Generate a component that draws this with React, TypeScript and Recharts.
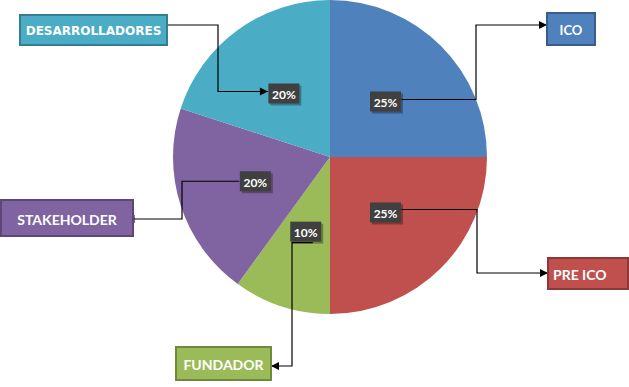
import React from "react";
import { PieChart, Pie, Cell } from "recharts";

// token allocation
const NAMES = ["ICO", "PRE ICO", "FUNDADOR", "STAKEHOLDER", "DESARROLLADORES"];
const VALUES = [25, 25, 10, 20, 20];
const COLORS = ["#4f81bd", "#c0504d", "#9bbb59", "#8064a2", "#4bacc6"];
const BORDERS = ["#385d8a", "#8c3836", "#71893f", "#5c4776", "#357d91"];

const data = NAMES.map((name, i) => ({ name, value: VALUES[i] }));

type Callout = {
  box: { x: number; y: number; w: number; h: number };
  elbowX: number;
  lineY: number;
  start: [number, number];
  arrow: "box" | "label" | "tick";
  font: string;
  size: number;
  tx?: number;
  anchor?: "start" | "middle";
};

// callout boxes placed around the pie, keyed by slice name
const CALLOUTS: Record<string, Callout> = {
  ICO: { box: { x: 547, y: 13, w: 48, h: 32 }, elbowX: 476, lineY: 25, start: [16, -2], arrow: "box", font: "Lato", size: 13 },
  "PRE ICO": { box: { x: 548, y: 258, w: 80, h: 31 }, elbowX: 477, lineY: 273, start: [16, -3], arrow: "box", font: "Lato", size: 14, tx: 553, anchor: "start" },
  FUNDADOR: { box: { x: 176, y: 347, w: 95, h: 33 }, elbowX: 292, lineY: 366, start: [7, 11], arrow: "box", font: "Lato", size: 14 },
  STAKEHOLDER: { box: { x: 1, y: 200, w: 132, h: 36 }, elbowX: 182, lineY: 219, start: [-16, 0], arrow: "tick", font: "Lato", size: 14 },
  DESARROLLADORES: { box: { x: 20, y: 15, w: 147, h: 30 }, elbowX: 218, lineY: 25, start: [-16, -2], arrow: "label", font: "DejaVu Sans", size: 12 },
};

const RADIAN = Math.PI / 180;

function arrowHead(tipX: number, tipY: number, dir: number) {
  // dir: +1 pointing right, -1 pointing left
  const len = 8;
  const half = 4;
  const bx = tipX - dir * len;
  return `${tipX},${tipY} ${bx},${tipY - half} ${bx},${tipY + half}`;
}

function renderLabel(props: any) {
  const { cx, cy, midAngle, outerRadius, percent, name, index } = props;
  const r = outerRadius * 0.5;
  const x = cx + r * Math.cos(-midAngle * RADIAN);
  const y = cy + r * Math.sin(-midAngle * RADIAN);
  const c = CALLOUTS[name];
  const bw = 31;
  const bh = 20;

  const sx = x + c.start[0];
  const sy = y + c.start[1];
  const boxRight = c.box.x > c.elbowX;
  const ex = boxRight ? c.box.x : c.box.x + c.box.w;
  const pts = `${sx},${sy} ${c.elbowX},${sy} ${c.elbowX},${c.lineY} ${ex},${c.lineY}`;

  let head: React.ReactNode = null;
  if (c.arrow === "box") {
    head = <polygon points={arrowHead(ex, c.lineY, boxRight ? 1 : -1)} fill="#000" />;
  } else if (c.arrow === "label") {
    head = <polygon points={arrowHead(sx, sy, sx > c.elbowX ? 1 : -1)} fill="#000" />;
  } else {
    head = <line x1={ex + 1} y1={c.lineY - 4} x2={ex + 1} y2={c.lineY + 4} stroke="#000" strokeWidth={1} />;
  }

  const tx = c.tx ?? c.box.x + c.box.w / 2;

  return (
    <g key={`lbl-${index}`}>
      <polyline points={pts} fill="none" stroke="#000" strokeWidth={1.2} />
      {head}
      <rect x={x - bw / 2 + 2} y={y - bh / 2 + 2} width={bw} height={bh} fill="rgba(0,0,0,0.3)" />
      <rect x={x - bw / 2} y={y - bh / 2} width={bw} height={bh} fill="#404040" />
      <text x={x} y={y + 1} textAnchor="middle" dominantBaseline="central" fill="#fff" fontFamily="Lato" fontWeight={700} fontSize={12}>
        {`${Math.round(percent * 100)}%`}
      </text>
      <rect
        x={c.box.x}
        y={c.box.y}
        width={c.box.w}
        height={c.box.h}
        fill={COLORS[index]}
        stroke={BORDERS[index]}
        strokeWidth={2}
      />
      <text
        x={tx}
        y={c.box.y + c.box.h / 2 + 1}
        textAnchor={c.anchor ?? "middle"}
        dominantBaseline="central"
        fill="#fff"
        fontFamily={c.font}
        fontWeight={700}
        fontSize={c.size}
      >
        {name}
      </text>
    </g>
  );
}

export default function App() {
  return (
    <div style={{ position: "absolute", left: 0, top: 0, width: 629, height: 387, background: "#fff" }}>
      <PieChart width={629} height={387} margin={{ top: 0, right: 0, bottom: 0, left: 0 }}>
        <Pie
          data={data}
          dataKey="value"
          nameKey="name"
          cx={330}
          cy={157}
          outerRadius={157}
          startAngle={90}
          endAngle={-270}
          stroke="none"
          label={renderLabel}
          labelLine={false}
          isAnimationActive={false}
        >
          {data.map((entry, index) => (
            <Cell key={`cell-${index}`} fill={COLORS[index]} />
          ))}
        </Pie>
      </PieChart>
    </div>
  );
}
